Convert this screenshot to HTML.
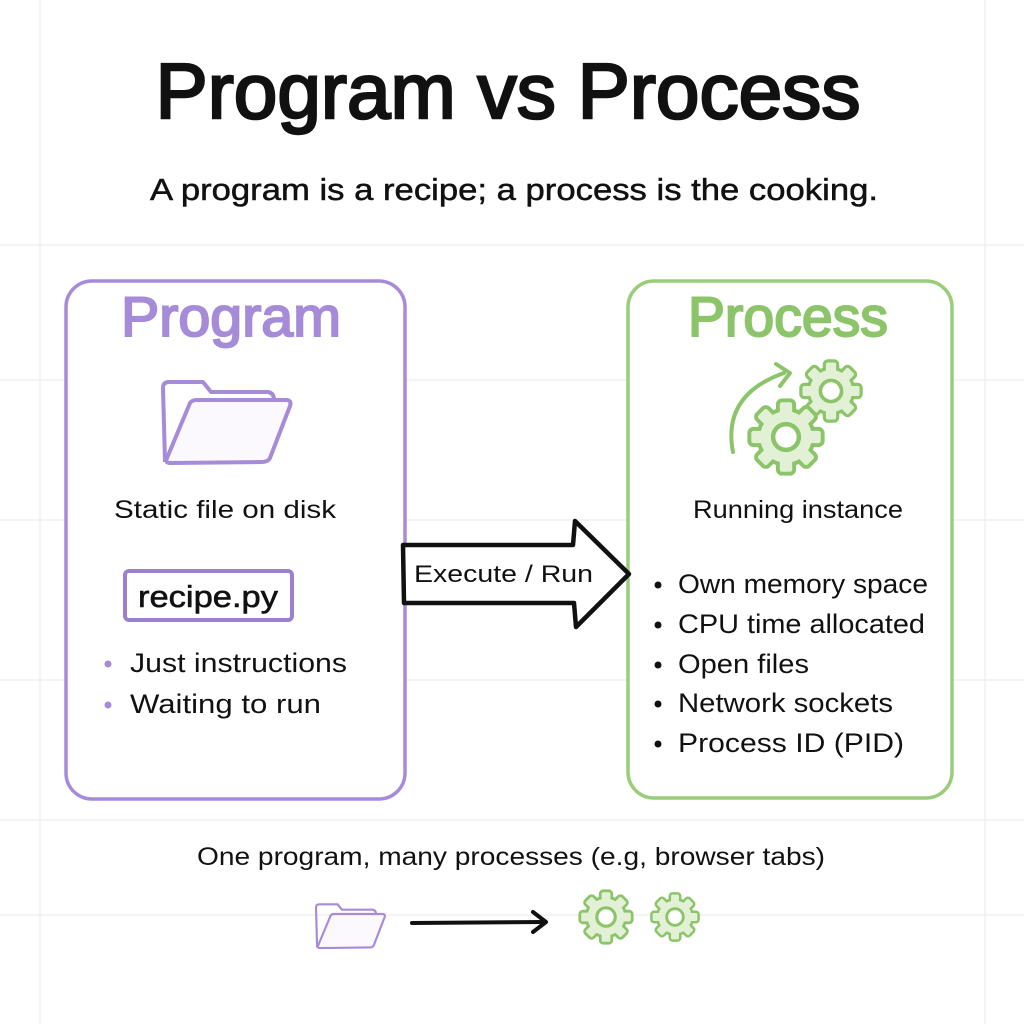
<!DOCTYPE html>
<html><head><meta charset="utf-8"><style>
html,body{margin:0;padding:0;background:#fff}
svg{display:block}
text{font-family:"Liberation Sans","DejaVu Sans",sans-serif}
</style></head><body>
<svg width="1024" height="1024" viewBox="0 0 1024 1024" xmlns="http://www.w3.org/2000/svg">
<defs>
<g id="folder">
<path d="M165,462 L163,388 Q163,382 169,382 L203,382 L211,392 L268,392 Q274,393 274,400" fill="none" stroke="#a58bd8" stroke-width="4" stroke-linejoin="round"/>
<path d="M190,403 Q192,400 197,400 L286,400 Q292,400 290,406 L270,458 Q268,462 262,462 L170,463 Q165,463 167,458 Z" fill="#fbf9fe" stroke="#a58bd8" stroke-width="4" stroke-linejoin="round"/>
</g>
<g id="gshape">
<circle r="23"/>
<rect x="-5.5" y="-31" width="11" height="12" rx="2"/>
<rect x="-5.5" y="-31" width="11" height="12" rx="2" transform="rotate(45)"/>
<rect x="-5.5" y="-31" width="11" height="12" rx="2" transform="rotate(90)"/>
<rect x="-5.5" y="-31" width="11" height="12" rx="2" transform="rotate(135)"/>
<rect x="-5.5" y="-31" width="11" height="12" rx="2" transform="rotate(180)"/>
<rect x="-5.5" y="-31" width="11" height="12" rx="2" transform="rotate(225)"/>
<rect x="-5.5" y="-31" width="11" height="12" rx="2" transform="rotate(270)"/>
<rect x="-5.5" y="-31" width="11" height="12" rx="2" transform="rotate(315)"/>
</g>
<g id="gear">
<use href="#gshape" fill="#8cc46a" stroke="#8cc46a" stroke-width="7" stroke-linejoin="round"/>
<use href="#gshape" fill="#e2f1d6"/>
<circle r="11.5" fill="#fff" stroke="#8cc46a" stroke-width="4"/>
</g>
</defs>
<g stroke="#f0f0f0" stroke-width="1.5">
<line x1="0" y1="245" x2="1024" y2="245"/>
<line x1="0" y1="380" x2="1024" y2="380"/>
<line x1="0" y1="520" x2="1024" y2="520"/>
<line x1="0" y1="680" x2="1024" y2="680"/>
<line x1="0" y1="820" x2="1024" y2="820"/>
<line x1="0" y1="915" x2="1024" y2="915"/>
<line x1="40" y1="0" x2="40" y2="1024"/>
<line x1="985" y1="0" x2="985" y2="1024"/>
</g>
<text x="508" y="118" text-anchor="middle" font-size="78" fill="#111" stroke="#111" stroke-width="2.5" textLength="705" lengthAdjust="spacingAndGlyphs">Program vs Process</text>
<text x="514" y="200" text-anchor="middle" font-size="31" fill="#111" stroke="#111" stroke-width="0.5" textLength="728" lengthAdjust="spacingAndGlyphs">A program is a recipe; a process is the cooking.</text>

<rect x="66" y="281" width="339" height="518" rx="26" fill="#fff" stroke="#a58bd8" stroke-width="3.5"/>
<text x="231" y="336" text-anchor="middle" font-size="56" fill="#a58bd8" stroke="#a58bd8" stroke-width="2" textLength="220" lengthAdjust="spacingAndGlyphs">Program</text>
<use href="#folder"/>
<text x="225" y="518" text-anchor="middle" font-size="25" fill="#111" textLength="222" lengthAdjust="spacingAndGlyphs">Static file on disk</text>
<rect x="125" y="571" width="167" height="49" rx="4" fill="#fff" stroke="#9a80cf" stroke-width="4"/>
<text x="208" y="607" text-anchor="middle" font-size="31" fill="#111" stroke="#111" stroke-width="0.6" textLength="140" lengthAdjust="spacingAndGlyphs">recipe.py</text>
<circle cx="108" cy="664" r="3.5" fill="#a58bd8"/>
<circle cx="108" cy="705" r="3.5" fill="#a58bd8"/>
<text x="130" y="672" font-size="27" fill="#111" textLength="217" lengthAdjust="spacingAndGlyphs">Just instructions</text>
<text x="130" y="713" font-size="27" fill="#111" textLength="191" lengthAdjust="spacingAndGlyphs">Waiting to run</text>

<rect x="628" y="281" width="324" height="517" rx="26" fill="#fff" stroke="#9acd7a" stroke-width="3.5"/>
<text x="788" y="336" text-anchor="middle" font-size="56" fill="#8cc46a" stroke="#8cc46a" stroke-width="2" textLength="200" lengthAdjust="spacingAndGlyphs">Process</text>
<path d="M733,452 Q722,395 784,373" fill="none" stroke="#8cc46a" stroke-width="4" stroke-linecap="round"/>
<path d="M776,364 L790,373 L780,386" fill="none" stroke="#8cc46a" stroke-width="4" stroke-linecap="round" stroke-linejoin="round"/>
<g transform="translate(831,391) scale(0.92)"><use href="#gear"/></g>
<g transform="translate(786,437) scale(1.12)"><use href="#gear"/></g>
<text x="798" y="518" text-anchor="middle" font-size="25" fill="#111" textLength="210" lengthAdjust="spacingAndGlyphs">Running instance</text>
<g font-size="27" fill="#111">
<text x="678" y="593" textLength="250" lengthAdjust="spacingAndGlyphs">Own memory space</text>
<text x="678" y="633" textLength="247" lengthAdjust="spacingAndGlyphs">CPU time allocated</text>
<text x="678" y="673" textLength="131" lengthAdjust="spacingAndGlyphs">Open files</text>
<text x="678" y="712" textLength="215" lengthAdjust="spacingAndGlyphs">Network sockets</text>
<text x="678" y="752" textLength="226" lengthAdjust="spacingAndGlyphs">Process ID (PID)</text>
</g>
<g fill="#111">
<circle cx="658" cy="585" r="3.5"/><circle cx="658" cy="625" r="3.5"/><circle cx="658" cy="665" r="3.5"/><circle cx="658" cy="704" r="3.5"/><circle cx="658" cy="744" r="3.5"/>
</g>

<path d="M403,545 L573,545 L575,521 L629,574 L576,627 L574,603 L404,603 Z" fill="#fff" stroke="#111" stroke-width="4.5" stroke-linejoin="round"/>
<text x="414" y="582" font-size="24" fill="#111" textLength="179" lengthAdjust="spacingAndGlyphs">Execute / Run</text>

<text x="511" y="865" text-anchor="middle" font-size="25" fill="#111" textLength="628" lengthAdjust="spacingAndGlyphs">One program, many processes (e.g, browser tabs)</text>
<g transform="translate(228,698) scale(0.54)"><use href="#folder"/></g>
<path d="M412,923 L544,922" stroke="#111" stroke-width="4" stroke-linecap="round"/>
<path d="M533,912 L546,922 L533,932" fill="none" stroke="#111" stroke-width="4" stroke-linecap="round" stroke-linejoin="round"/>
<g transform="translate(606,917) scale(0.8)"><use href="#gear"/></g>
<g transform="translate(675,917) scale(0.72)"><use href="#gear"/></g>
</svg>
</body></html>
